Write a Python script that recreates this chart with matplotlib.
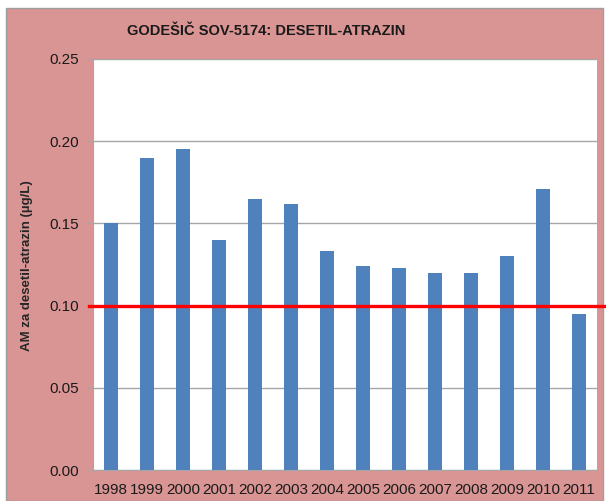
import matplotlib
matplotlib.use("Agg")
import matplotlib.pyplot as plt
from matplotlib.patches import Rectangle

YEARS = ["1998", "1999", "2000", "2001", "2002", "2003", "2004",
         "2005", "2006", "2007", "2008", "2009", "2010", "2011"]
VALUES = [0.150, 0.190, 0.195, 0.140, 0.165, 0.162, 0.133,
          0.124, 0.123, 0.120, 0.120, 0.130, 0.171, 0.095]
LIMIT = 0.10
Y_TICKS = [0.00, 0.05, 0.10, 0.15, 0.20, 0.25]

TITLE = "GODEŠIČ SOV-5174: DESETIL-ATRAZIN"
YLABEL = "AM za desetil-atrazin (µg/L)"

PINK = "#D99594"
BLUE = "#4F81BD"
GRID = "#A6A6A6"

plt.rcParams["font.family"] = ["Liberation Sans", "DejaVu Sans"]

W, H = 606, 501
fig = plt.figure(figsize=(W / 100, H / 100), dpi=100, facecolor="white")
fig.patches.append(Rectangle((6 / W, 0), (603 - 6) / W, (501 - 8) / H,
                             transform=fig.transFigure, facecolor=PINK,
                             edgecolor="#9E9E9E", lw=1.0, zorder=-10))

left, right, top, bottom = 93, 597, 59, 470
ax = fig.add_axes([left / W, 1 - bottom / H, (right - left) / W, (bottom - top) / H])
ax.set_facecolor("white")

x = list(range(len(YEARS)))
ax.bar(x, VALUES, width=0.38, color=BLUE, zorder=3)

ax.axhline(LIMIT, xmin=(89 - left) / (right - left), xmax=(606 - left) / (right - left),
           color="#FF0000", lw=2.4, clip_on=False, zorder=4)

ax.set_xlim(-0.5, len(YEARS) - 0.5)
ax.set_ylim(0, 0.25)
ax.set_yticks(Y_TICKS)
ax.set_yticklabels([f"{v:.2f}" for v in Y_TICKS], fontsize=11, color="#1a1a1a")
ax.yaxis.grid(True, color=GRID, lw=1.0, zorder=0)
ax.set_axisbelow(True)

ax.set_xticks(x)
ax.set_xticklabels(YEARS, fontsize=11, color="#1a1a1a")
ax.set_xticks([i + 0.5 for i in range(-1, len(YEARS))], minor=True)
ax.tick_params(axis="x", which="major", length=0, pad=9)
ax.tick_params(axis="x", which="minor", length=4, color=GRID)
ax.tick_params(axis="y", length=4, color=GRID, pad=6)

for side in ("top", "right"):
    ax.spines[side].set_visible(False)
for side in ("left", "bottom"):
    ax.spines[side].set_color(GRID)

fig.text(266 / W, 1 - 31 / H, TITLE, ha="center", va="center",
         fontsize=10.5, fontweight="bold", color="#1a1a1a")
fig.text(27 / W, 1 - 266 / H, YLABEL, ha="center", va="center",
         rotation=90, fontsize=9.5, fontweight="bold", color="#262626")

fig.savefig("out.png", dpi=100, facecolor=fig.get_facecolor())
